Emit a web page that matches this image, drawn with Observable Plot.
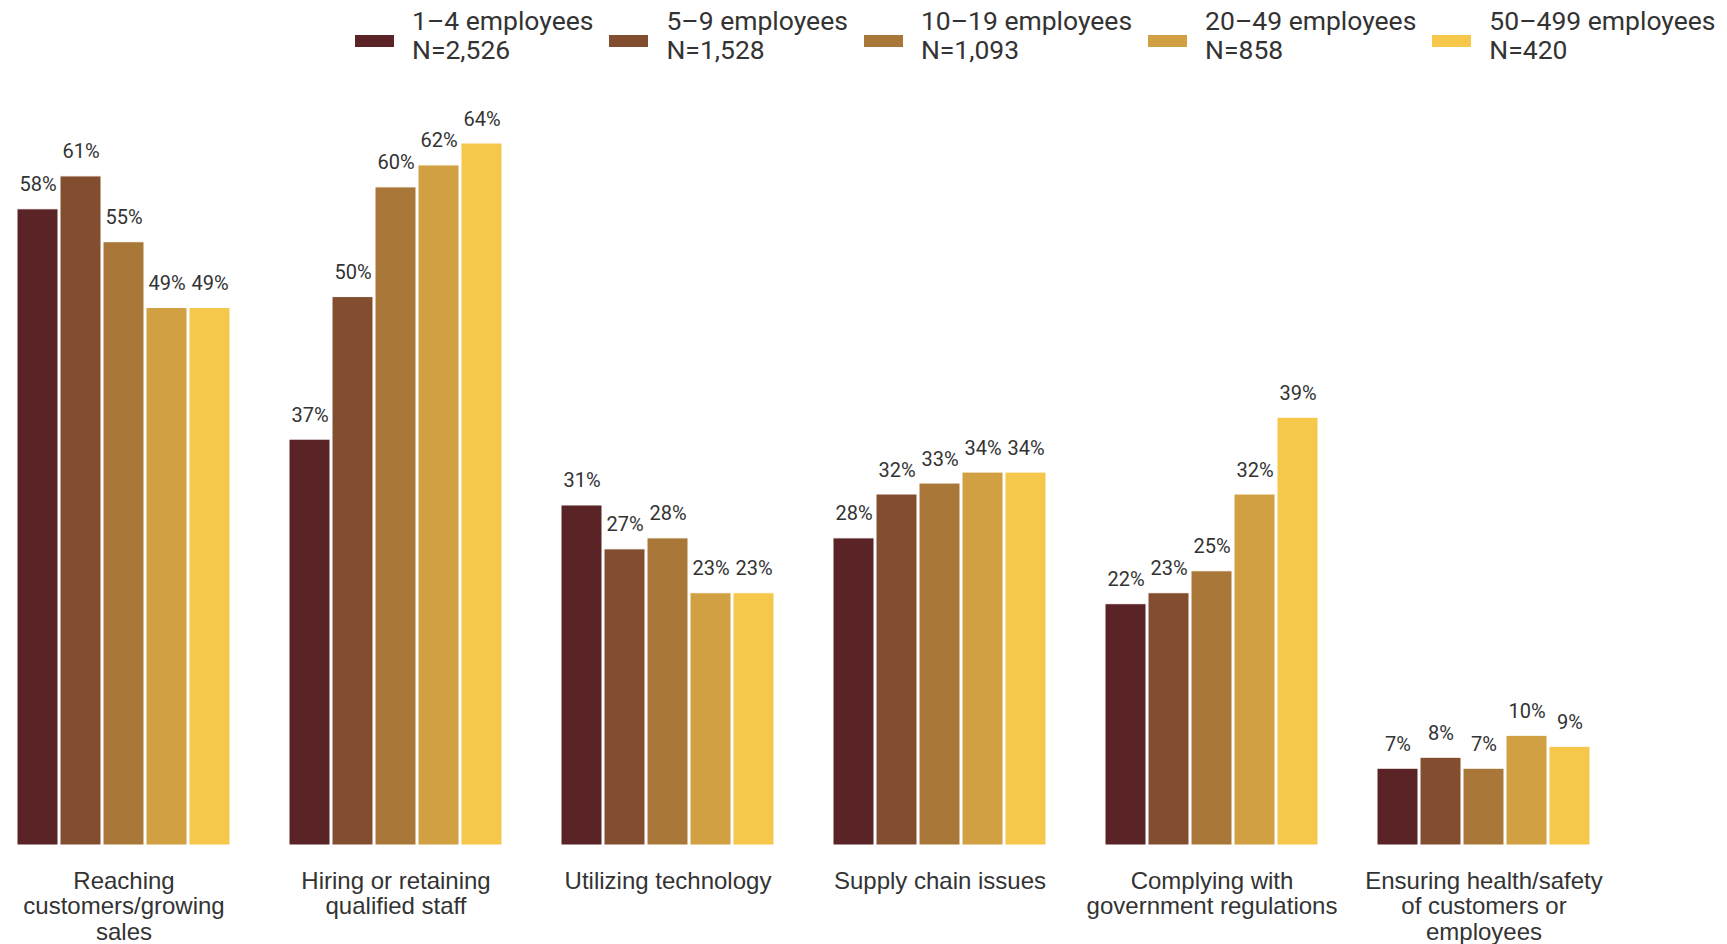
<!DOCTYPE html>
<html><head><meta charset="utf-8">
<script src="https://cdn.jsdelivr.net/npm/d3@7"></script>
<script src="https://cdn.jsdelivr.net/npm/@observablehq/plot@0.6"></script>
<style>
body{margin:0;background:#fff;}
#legend{height:70px;box-sizing:border-box;padding:0 0 0 355px;display:flex;gap:16px;font-family:Roboto,sans-serif;font-size:26.5px;line-height:29px;color:#333;}
.item{display:flex;align-items:center;}
.sw{width:39px;height:12px;margin-right:18px;margin-top:11px;}
</style></head><body>
<div id="legend"></div><div id="chart"></div>
<script>
const categories = ["Reaching customers/growing sales", "Hiring or retaining qualified staff", "Utilizing technology", "Supply chain issues", "Complying with government regulations", "Ensuring health/safety of customers or employees"];
const tickLabels = ["Reaching\ncustomers/growing\nsales", "Hiring or retaining\nqualified staff", "Utilizing technology", "Supply chain issues", "Complying with\ngovernment regulations", "Ensuring health/safety\nof customers or\nemployees"];
const series = ["1–4 employees", "5–9 employees", "10–19 employees", "20–49 employees", "50–499 employees"];
const seriesN = ["N=2,526", "N=1,528", "N=1,093", "N=858", "N=420"];
const colors = ["#5a2427", "#824e2f", "#a97839", "#d1a043", "#f5c74a"];
const reachingCustomers = [58, 61, 55, 49, 49];
const hiringStaff = [37, 50, 60, 62, 64];
const utilizingTech = [31, 27, 28, 23, 23];
const supplyChain = [28, 32, 33, 34, 34];
const complyingRegs = [22, 23, 25, 32, 39];
const ensuringHealth = [7, 8, 7, 10, 9];
const valuesByCategory = [reachingCustomers, hiringStaff, utilizingTech, supplyChain, complyingRegs, ensuringHealth];

const data = [];
categories.forEach((c, i) => series.forEach((s, j) => data.push({category: c, series: s, value: valuesByCategory[i][j]})));

const legend = document.getElementById("legend");
series.forEach((s, i) => {
  const item = document.createElement("div"); item.className = "item";
  const sw = document.createElement("div"); sw.className = "sw"; sw.style.background = colors[i];
  const tx = document.createElement("div"); tx.innerHTML = s + "<br>" + seriesN[i];
  item.appendChild(sw); item.appendChild(tx); legend.appendChild(item);
});

const chart = Plot.plot({
  width: 1727, height: 874,
  marginLeft: 14, marginRight: 135, marginTop: 73, marginBottom: 99,
  style: {fontFamily: "'Liberation Sans', Arial, sans-serif", background: "#fff"},
  fx: {domain: categories, paddingInner: 0.21, paddingOuter: 0, label: null},
  x: {domain: series, paddingInner: 0.04, paddingOuter: 0, axis: null},
  y: {domain: [0, 64], axis: null},
  color: {domain: series, range: colors},
  marks: [
    Plot.barY(data, {fx: "category", x: "series", y: "value", fill: "series", stroke: "white", strokeWidth: 1}),
    Plot.text(data, {fx: "category", x: "series", y: "value", text: d => d.value + "%", lineAnchor: "bottom", dy: -18, fontSize: 20, fontFamily: "Roboto", fill: "#333"}),
    Plot.axisFx({anchor: "bottom", tickSize: 0, tickPadding: 25.5, tickFormat: c => tickLabels[categories.indexOf(c)], fontSize: 24, lineHeight: 25.3/24, fill: "#333", label: null})
  ]
});
document.getElementById("chart").appendChild(chart);
</script>
</body></html>
